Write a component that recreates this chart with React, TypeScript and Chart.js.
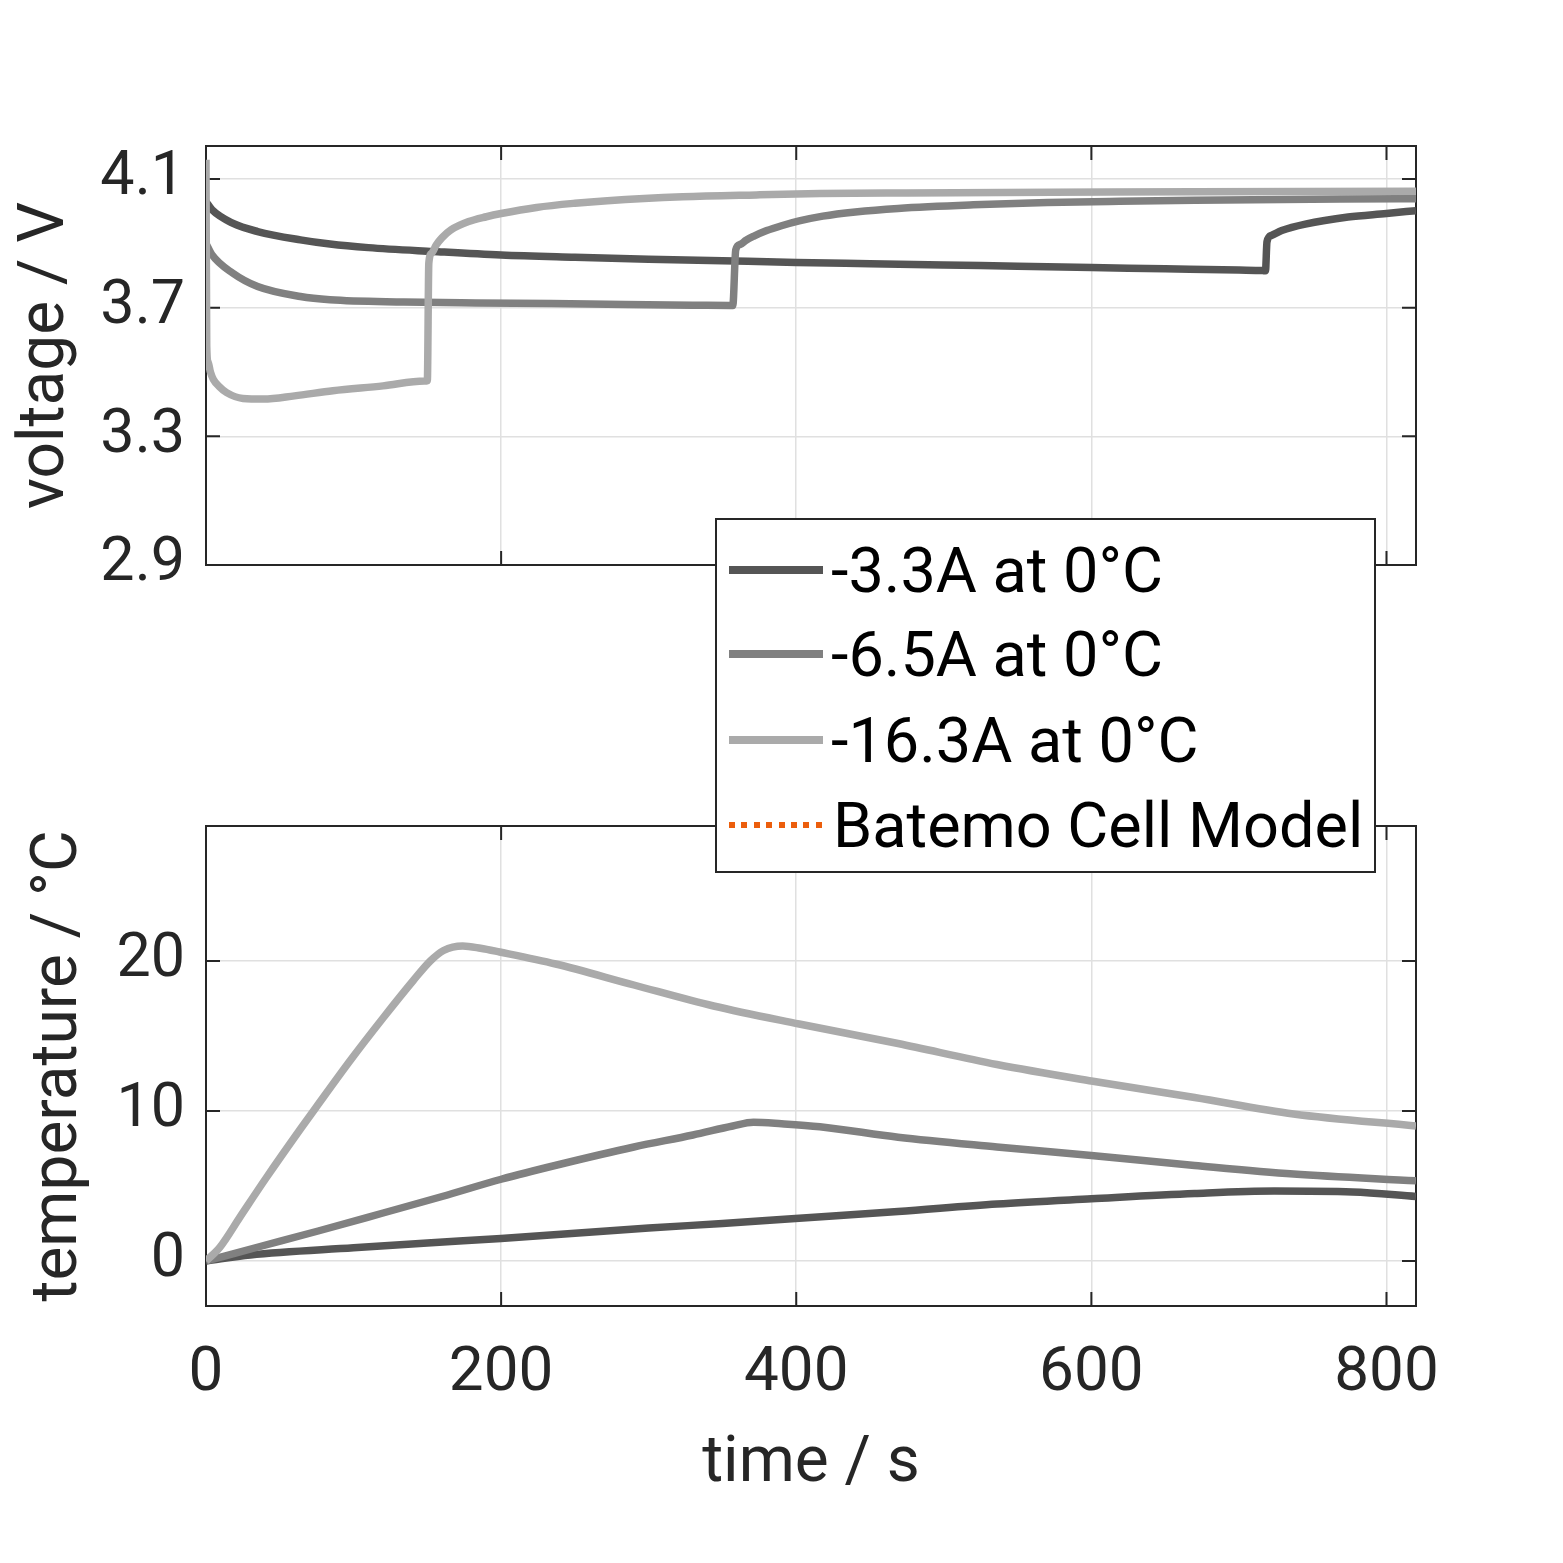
import { useEffect, useRef } from "react"
import Chart from "chart.js/auto"

// axis ticks
const xTicks = [0, 200, 400, 600, 800]
const voltageTicks = [2.9, 3.3, 3.7, 4.1]
const tempTicks = [0, 10, 20]

// series
const seriesNames = ["-3.3A at 0°C", "-6.5A at 0°C", "-16.3A at 0°C"]
const seriesColors = ["#555555", "#808080", "#aaaaaa"]
const modelName = "Batemo Cell Model"
const modelColor = "#ec5e0c"

// voltage, -3.3A
const tV1 = [0, 4, 18, 35, 64, 84, 110, 154, 200, 250, 300, 350, 400, 450, 500, 550, 600, 650, 700, 716, 718, 719, 722, 729, 745, 774, 800, 820]
const v1 = [4.03, 4.005, 3.963, 3.937, 3.911, 3.898, 3.887, 3.875, 3.864, 3.857, 3.851, 3.846, 3.841, 3.837, 3.833, 3.829, 3.825, 3.821, 3.817, 3.8155, 3.815, 3.905, 3.925, 3.94, 3.96, 3.982, 3.993, 4.002]
// voltage, -6.5A
const tV2 = [0, 4, 18, 35, 64, 84, 134, 183, 234, 284, 330, 355, 357, 359, 362, 366, 371, 380, 390, 402, 418, 440, 469, 520, 570, 619, 670, 769, 820]
const v2 = [3.9, 3.865, 3.808, 3.766, 3.735, 3.725, 3.718, 3.715, 3.713, 3.71, 3.708, 3.7072, 3.707, 3.88, 3.897, 3.91, 3.922, 3.94, 3.955, 3.97, 3.985, 3.998, 4.009, 4.02, 4.027, 4.031, 4.034, 4.038, 4.039]
// voltage, -16.3A
const tV3 = [0, 0.5, 1.5, 3, 5, 9, 14, 25, 39, 60, 86, 120, 148, 150, 151, 153, 156, 160, 166, 178, 190, 200, 224, 250, 272, 323, 373, 416, 475, 574, 670, 820]
const v3 = [4.16, 3.58, 3.53, 3.5, 3.477, 3.455, 3.436, 3.418, 3.416, 3.426, 3.442, 3.457, 3.472, 3.473, 3.839, 3.87, 3.895, 3.918, 3.942, 3.968, 3.983, 3.993, 4.012, 4.025, 4.033, 4.045, 4.051, 4.055, 4.057, 4.059, 4.061, 4.062]

// temperature, -3.3A
const tT1 = [0, 30, 100, 150, 200, 250, 300, 350, 402, 469, 536, 600, 670, 724, 777, 820]
const T1 = [0, 0.4, 0.88, 1.2, 1.5, 1.85, 2.2, 2.5, 2.85, 3.3, 3.8, 4.15, 4.5, 4.66, 4.6, 4.3]
// temperature, -6.5A
const tT2 = [0, 36, 76, 120, 160, 200, 240, 290, 330, 357, 371, 390, 416, 469, 536, 600, 670, 737, 820]
const T2 = [0, 0.95, 2.0, 3.2, 4.3, 5.45, 6.45, 7.6, 8.4, 9.0, 9.25, 9.15, 8.95, 8.25, 7.6, 7.03, 6.37, 5.8, 5.35]
// temperature, -16.3A
const tT3 = [0, 9.5, 23, 40.5, 64, 75, 98, 120, 140.5, 152, 161, 174, 186, 199, 237, 290, 344, 402, 469, 536, 600, 670, 737, 820]
const T3 = [0, 0.93, 2.93, 5.5, 8.8, 10.3, 13.4, 16.2, 18.7, 20.0, 20.7, 21.0, 20.85, 20.6, 19.8, 18.4, 17.0, 15.8, 14.5, 13.1, 12.0, 10.9, 9.8, 9.0]

const pts = (t: number[], v: number[]) => t.map((x, i) => ({ x, y: v[i] }))

const FONT = "Roboto"
const INK = "#262626"
const GRID = "#e0e0e0"

// MATLAB style box with inward ticks
const framePlugin = {
  id: "frame",
  beforeDatasetsDraw(chart: any) {
    const { ctx, chartArea: a, scales } = chart
    const len = 14
    ctx.save()
    ctx.strokeStyle = INK
    ctx.lineWidth = 2
    ctx.strokeRect(a.left, a.top, a.right - a.left, a.bottom - a.top)
    ctx.beginPath()
    for (const t of scales.x.ticks) {
      const px = scales.x.getPixelForValue(t.value)
      ctx.moveTo(px, a.bottom)
      ctx.lineTo(px, a.bottom - len)
      ctx.moveTo(px, a.top)
      ctx.lineTo(px, a.top + len)
    }
    for (const t of scales.y.ticks) {
      const py = scales.y.getPixelForValue(t.value)
      ctx.moveTo(a.left, py)
      ctx.lineTo(a.left + len, py)
      ctx.moveTo(a.right, py)
      ctx.lineTo(a.right - len, py)
    }
    ctx.stroke()
    ctx.restore()
  },
}

function makeDatasets(sets: { x: number; y: number }[][]) {
  return sets.map((data, i) => ({
    label: seriesNames[i],
    data,
    borderColor: seriesColors[i],
    borderWidth: 7.5,
    borderJoinStyle: "round" as const,
    cubicInterpolationMode: "monotone" as const,
    pointRadius: 0,
    order: 3 - i,
  }))
}

function xScale(showLabels: boolean, height: number) {
  return {
    type: "linear" as const,
    min: 0,
    max: 820,
    afterBuildTicks: (axis: any) => {
      axis.ticks = xTicks.map((value) => ({ value }))
    },
    afterFit: (axis: any) => {
      axis.height = height
    },
    border: { display: false },
    grid: { color: GRID, lineWidth: 1.5, drawTicks: false },
    ticks: {
      display: showLabels,
      color: INK,
      padding: 31,
      font: { family: FONT, size: 62 },
      maxRotation: 0,
    },
    title: {
      display: showLabels,
      text: "time / s",
      color: INK,
      font: { family: FONT, size: 64 },
      padding: { top: 0, bottom: 60 },
    },
  }
}

function yScale(ticks: number[], min: number, max: number, title: string, titlePad: number) {
  return {
    min,
    max,
    afterBuildTicks: (axis: any) => {
      axis.ticks = ticks.map((value) => ({ value }))
    },
    afterFit: (axis: any) => {
      axis.width = 206
    },
    border: { display: false },
    grid: { color: GRID, lineWidth: 1.5, drawTicks: false },
    ticks: {
      color: INK,
      padding: 21,
      font: { family: FONT, size: 61 },
    },
    title: {
      display: true,
      text: title,
      color: INK,
      font: { family: FONT, size: 64 },
      padding: { top: titlePad, bottom: 0 },
    },
  }
}

export default function App() {
  const topRef = useRef<HTMLCanvasElement>(null)
  const bottomRef = useRef<HTMLCanvasElement>(null)

  useEffect(() => {
    if (!topRef.current || !bottomRef.current) return

    const topChart = new Chart(topRef.current, {
      type: "line",
      data: { datasets: makeDatasets([pts(tV1, v1), pts(tV2, v2), pts(tV3, v3)]) },
      options: {
        responsive: false,
        animation: false,
        layout: { padding: { top: 146, right: 147, bottom: 95, left: 0 } },
        plugins: { legend: { display: false }, tooltip: { enabled: false } },
        scales: {
          x: xScale(false, 0),
          y: yScale(voltageTicks, 2.9, 4.203, "voltage / V", 9),
        },
      },
      plugins: [framePlugin],
    })

    const bottomChart = new Chart(bottomRef.current, {
      type: "line",
      data: { datasets: makeDatasets([pts(tT1, T1), pts(tT2, T2), pts(tT3, T3)]) },
      options: {
        responsive: false,
        animation: false,
        layout: { padding: { top: 166, right: 147, bottom: 0, left: 0 } },
        plugins: { legend: { display: false }, tooltip: { enabled: false } },
        scales: {
          x: xScale(true, 257),
          y: yScale(tempTicks, -3, 29, "temperature / °C", 22),
        },
      },
      plugins: [framePlugin],
    })

    return () => {
      topChart.destroy()
      bottomChart.destroy()
    }
  }, [])

  const rowY = [50, 134, 220, 305]
  const legendItems = [
    ...seriesNames.map((name, i) => ({ name, color: seriesColors[i], dotted: false })),
    { name: modelName, color: modelColor, dotted: true },
  ]

  return (
    <div style={{ position: "absolute", left: 0, top: 0, width: 1563, height: 1563, background: "#fff" }}>
      <canvas ref={topRef} width={1563} height={660} style={{ position: "absolute", left: 0, top: 0 }} />
      <canvas ref={bottomRef} width={1563} height={903} style={{ position: "absolute", left: 0, top: 660 }} />
      <div
        style={{
          position: "absolute",
          left: 715,
          top: 518,
          width: 661,
          height: 355,
          boxSizing: "border-box",
          border: `2px solid ${INK}`,
          background: "#fff",
        }}
      >
        {legendItems.map((item, i) => (
          <div
            key={item.name}
            style={{
              position: "absolute",
              left: 12,
              top: rowY[i] - 40,
              height: 80,
              display: "flex",
              alignItems: "center",
              fontFamily: FONT,
              fontSize: 63,
              color: "#000",
              whiteSpace: "nowrap",
            }}
          >
            <div
              style={{
                width: 94,
                height: item.dotted ? 6 : 8,
                marginRight: item.dotted ? 10 : 8,
                background: item.dotted
                  ? `repeating-linear-gradient(90deg, ${item.color} 0 6px, transparent 6px 12.4px)`
                  : item.color,
              }}
            />
            <span>{item.name}</span>
          </div>
        ))}
      </div>
    </div>
  )
}
